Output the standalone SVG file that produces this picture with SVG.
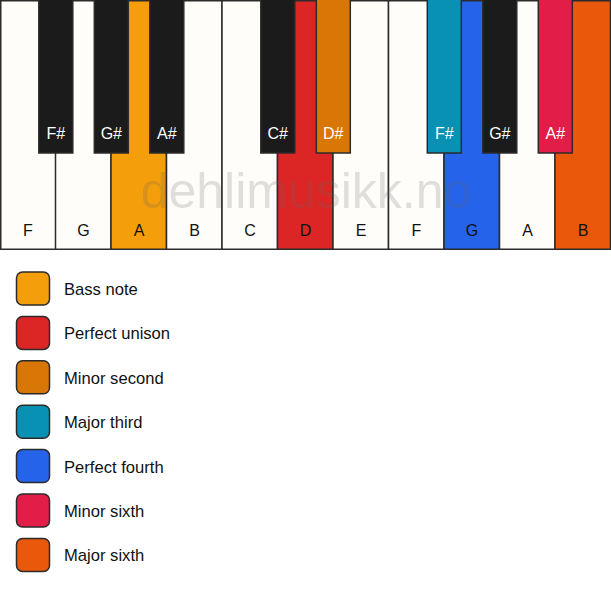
<svg xmlns="http://www.w3.org/2000/svg" width="611" height="594" viewBox="0 0 611 594">
<style>
.w{fill:#FEFDFA;stroke:#2b2b2b;stroke-width:1.5}
.b{fill:#1b1b1b;stroke:#2b2b2b;stroke-width:1.5}
.sw{stroke:#2b2b2b;stroke-width:1.5}
text{font-family:"Liberation Sans",Arial,sans-serif;font-size:16px}
.wl{fill:#111;text-anchor:middle}
.bl{fill:#fff;text-anchor:middle}
.lg{fill:#111;font-size:16.6px}
.wm{font-size:50px;fill:#666;fill-opacity:0.2;text-anchor:middle}
</style>
<rect width="611" height="594" fill="#ffffff"/>
<g id="white-keys">
<g id="wk-F1"><rect class="w" x="0.75" y="0.75" width="55.5" height="248.5"/><text class="wl" x="28" y="236">F</text></g>
<g id="wk-G1"><rect class="w" x="55.5" y="0.75" width="55.5" height="248.5"/><text class="wl" x="83.5" y="236">G</text></g>
<g id="wk-A1"><rect class="w" x="111" y="0.75" width="55.5" height="248.5" style="fill:#F59E0B"/><text class="wl" x="139" y="236">A</text></g>
<g id="wk-B1"><rect class="w" x="166.5" y="0.75" width="55.5" height="248.5"/><text class="wl" x="194.5" y="236">B</text></g>
<g id="wk-C"><rect class="w" x="222" y="0.75" width="55.5" height="248.5"/><text class="wl" x="250" y="236">C</text></g>
<g id="wk-D"><rect class="w" x="277.5" y="0.75" width="55.5" height="248.5" style="fill:#DC2626"/><text class="wl" x="305.5" y="236">D</text></g>
<g id="wk-E"><rect class="w" x="333" y="0.75" width="55.5" height="248.5"/><text class="wl" x="361" y="236">E</text></g>
<g id="wk-F2"><rect class="w" x="388.5" y="0.75" width="55.5" height="248.5"/><text class="wl" x="416.5" y="236">F</text></g>
<g id="wk-G2"><rect class="w" x="444" y="0.75" width="55.5" height="248.5" style="fill:#2563EB"/><text class="wl" x="472" y="236">G</text></g>
<g id="wk-A2"><rect class="w" x="499.5" y="0.75" width="55.5" height="248.5"/><text class="wl" x="527.5" y="236">A</text></g>
<g id="wk-B2"><rect class="w" x="555" y="0.75" width="55.5" height="248.5" style="fill:#EA580C"/><text class="wl" x="583" y="236">B</text></g>
</g>
<g id="black-keys">
<g id="bk-Fs1"><rect class="b" x="38.8" y="-1" width="34" height="154"/><text class="bl" x="55.8" y="139">F#</text></g>
<g id="bk-Gs1"><rect class="b" x="94.3" y="-1" width="34" height="154"/><text class="bl" x="111.3" y="139">G#</text></g>
<g id="bk-As1"><rect class="b" x="149.8" y="-1" width="34" height="154"/><text class="bl" x="166.8" y="139">A#</text></g>
<g id="bk-Cs"><rect class="b" x="260.8" y="-1" width="34" height="154"/><text class="bl" x="277.8" y="139">C#</text></g>
<g id="bk-Ds"><rect class="b" x="316.3" y="-1" width="34" height="154" style="fill:#D97706"/><text class="bl" x="333.3" y="139">D#</text></g>
<g id="bk-Fs2"><rect class="b" x="427.3" y="-1" width="34" height="154" style="fill:#0891B2"/><text class="bl" x="444.3" y="139">F#</text></g>
<g id="bk-Gs2"><rect class="b" x="482.8" y="-1" width="34" height="154"/><text class="bl" x="499.8" y="139">G#</text></g>
<g id="bk-As2"><rect class="b" x="538.3" y="-1" width="34" height="154" style="fill:#E11D48"/><text class="bl" x="555.3" y="139">A#</text></g>
</g>
<text class="wm" x="306" y="208">dehlimusikk.no</text>
<g id="legend">
<g id="lg-bass"><rect class="sw" x="16.5" y="272" width="33" height="33" rx="6" fill="#F59E0B"/><text class="lg" x="64" y="295">Bass note</text></g>
<g id="lg-unison"><rect class="sw" x="16.5" y="316.4" width="33" height="33" rx="6" fill="#DC2626"/><text class="lg" x="64" y="339.4">Perfect unison</text></g>
<g id="lg-m2"><rect class="sw" x="16.5" y="360.8" width="33" height="33" rx="6" fill="#D97706"/><text class="lg" x="64" y="383.8">Minor second</text></g>
<g id="lg-M3"><rect class="sw" x="16.5" y="405.2" width="33" height="33" rx="6" fill="#0891B2"/><text class="lg" x="64" y="428.2">Major third</text></g>
<g id="lg-P4"><rect class="sw" x="16.5" y="449.6" width="33" height="33" rx="6" fill="#2563EB"/><text class="lg" x="64" y="472.6">Perfect fourth</text></g>
<g id="lg-m6"><rect class="sw" x="16.5" y="494" width="33" height="33" rx="6" fill="#E11D48"/><text class="lg" x="64" y="517">Minor sixth</text></g>
<g id="lg-M6"><rect class="sw" x="16.5" y="538.4" width="33" height="33" rx="6" fill="#EA580C"/><text class="lg" x="64" y="561.4">Major sixth</text></g>
</g>
<g id="connectors"></g>
</svg>
